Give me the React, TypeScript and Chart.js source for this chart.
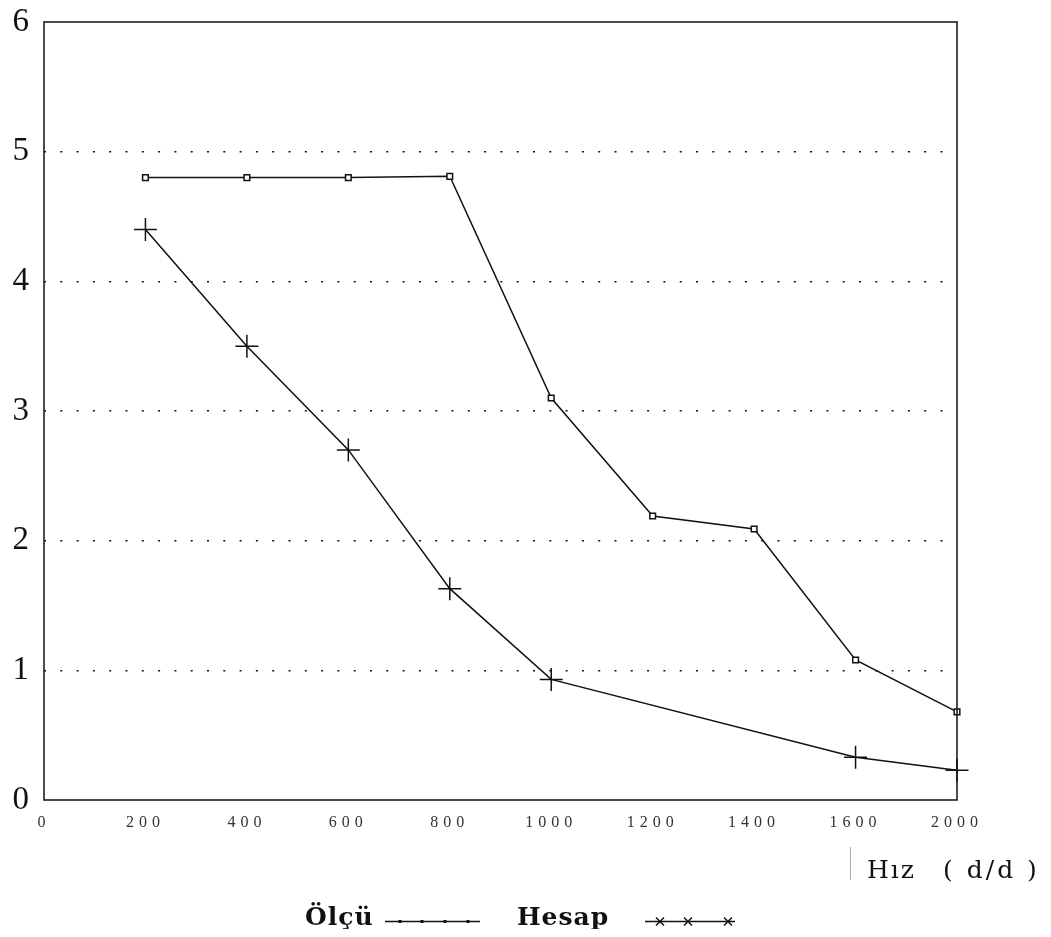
import { useEffect, useRef } from 'react';
import { Chart, registerables } from 'chart.js';

Chart.register(...registerables);

const categories = ['0', '200', '400', '600', '800', '1000', '1200', '1400', '1600', '2000'];
const olcuValues = [null, 4.8, 4.8, 4.8, 4.81, 3.1, 2.19, 2.09, 1.08, 0.68];
const hesapValues = [null, 4.4, 3.5, 2.7, 1.63, 0.93, null, null, 0.33, 0.23];
const yTickValues = [0, 1, 2, 3, 4, 5, 6];
const olcuLabel = 'Ölçü';
const hesapLabel = 'Hesap';
const axisTitleWord = 'Hız';
const axisTitleUnit = '( d/d )';

const FONT = '"Liberation Serif", "Times New Roman", serif';
const WIDE = '"DejaVu Serif", serif';

const extras = {
  id: 'extras',
  beforeDraw(chart: any) {
    chart.ctx.letterSpacing = '5px';
  },
  beforeDatasetsDraw(chart: any) {
    chart.ctx.letterSpacing = '0px';
  },
  afterDraw(chart: any) {
    const { ctx, chartArea: a } = chart;
    ctx.save();
    ctx.letterSpacing = '0px';
    ctx.setLineDash([]);
    ctx.strokeStyle = '#111';
    ctx.lineWidth = 1.5;
    ctx.strokeRect(a.left, a.top, a.right - a.left, a.bottom - a.top);

    // axis title
    ctx.strokeStyle = '#aaa';
    ctx.lineWidth = 1;
    ctx.beginPath();
    ctx.moveTo(842.5, 839);
    ctx.lineTo(842.5, 872);
    ctx.stroke();
    ctx.fillStyle = '#111';
    ctx.textBaseline = 'alphabetic';
    ctx.textAlign = 'left';
    ctx.font = `25px ${WIDE}`;
    ctx.letterSpacing = '2px';
    ctx.fillText(axisTitleWord, 859, 870);
    ctx.letterSpacing = '3px';
    ctx.fillText(axisTitleUnit, 935, 870);

    // legend
    ctx.font = `bold 25px ${WIDE}`;
    ctx.letterSpacing = '1px';
    ctx.fillText(olcuLabel, 297, 917);
    ctx.fillText(hesapLabel, 509, 917);
    ctx.letterSpacing = '0px';
    ctx.strokeStyle = '#111';
    ctx.lineWidth = 1.3;
    ctx.beginPath();
    ctx.moveTo(377, 913.5);
    ctx.lineTo(472, 913.5);
    ctx.moveTo(637, 913.5);
    ctx.lineTo(727, 913.5);
    ctx.stroke();
    [392, 414, 437, 460].forEach((x) => ctx.fillRect(x - 1.5, 912, 3, 3));
    ctx.lineWidth = 1.5;
    [652, 680, 720].forEach((x) => {
      ctx.beginPath();
      ctx.moveTo(x - 4, 909.5);
      ctx.lineTo(x + 4, 917.5);
      ctx.moveTo(x + 4, 909.5);
      ctx.lineTo(x - 4, 917.5);
      ctx.stroke();
    });
    ctx.restore();
  },
};

export default function App() {
  const ref = useRef<HTMLCanvasElement>(null);
  useEffect(() => {
    if (!ref.current) return;
    const chart = new Chart(ref.current, {
      type: 'line',
      data: {
        labels: categories,
        datasets: [
          {
            label: olcuLabel,
            data: olcuValues,
            borderColor: '#111',
            borderWidth: 1.5,
            pointStyle: 'rect',
            pointRadius: 4,
            pointBackgroundColor: '#fff',
            pointBorderColor: '#111',
            pointBorderWidth: 1.5,
            tension: 0,
            spanGaps: false,
            clip: false,
          } as any,
          {
            label: hesapLabel,
            data: hesapValues,
            borderColor: '#111',
            borderWidth: 1.5,
            pointStyle: 'cross',
            pointRadius: 11.5,
            pointBorderColor: '#111',
            pointBorderWidth: 1.5,
            tension: 0,
            spanGaps: true,
            clip: false,
          } as any,
        ],
      },
      options: {
        animation: false,
        responsive: true,
        maintainAspectRatio: false,
        layout: { padding: { top: 14, right: 86, left: 0, bottom: 0 } },
        plugins: { legend: { display: false }, tooltip: { enabled: false } },
        scales: {
          x: {
            type: 'category',
            offset: false,
            grid: { display: false, drawTicks: false },
            border: { display: false },
            ticks: {
              autoSkip: false,
              maxRotation: 0,
              minRotation: 0,
              padding: 13,
              color: '#333',
              font: { family: FONT, size: 16 },
            },
            afterFit: (scale: any) => {
              scale.height = 129;
              scale.paddingLeft = 0;
              scale.paddingRight = 0;
            },
          },
          y: {
            min: 0,
            max: 6,
            afterBuildTicks: (scale: any) => {
              scale.ticks = yTickValues.map((v) => ({ value: v }));
            },
            grid: {
              drawTicks: false,
              lineWidth: 1.5,
              color: (c: any) => (c.tick && c.tick.value > 0 && c.tick.value < 6 ? '#111' : 'rgba(0,0,0,0)'),
            },
            border: { display: false, dash: [2, 14.3] },
            ticks: {
              padding: 10,
              color: '#111',
              font: { family: FONT, size: 33 },
            },
            afterFit: (scale: any) => {
              scale.width = 36;
              scale.paddingTop = 0;
              scale.paddingBottom = 0;
            },
          },
        },
      },
      plugins: [extras],
    });
    return () => chart.destroy();
  }, []);
  return (
    <div style={{ width: 1035, height: 921, position: 'relative' }}>
      <canvas ref={ref} />
    </div>
  );
}
